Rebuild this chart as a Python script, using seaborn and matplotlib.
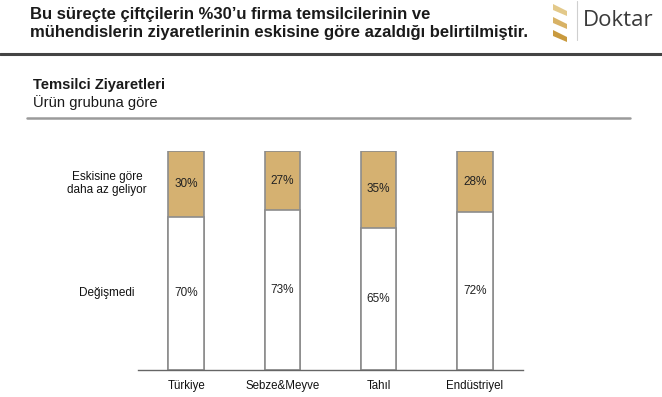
import numpy as np
import pandas as pd
import matplotlib.pyplot as plt
import seaborn as sns

# -----------------------------------
# Data
# -----------------------------------
categories = ["Türkiye", "Sebze&Meyve", "Tahıl", "Endüstriyel"]
unchanged = [70, 73, 65, 72]      # Değişmedi
less_often = [30, 27, 35, 28]     # Eskisine göre daha az geliyor
row_labels = ["Eskisine göre\ndaha az geliyor", "Değişmedi"]

df = pd.DataFrame({
    "Kategori": categories,
    "Degismedi": unchanged,
    "Azaldi": less_often,
})
df["Toplam"] = df["Degismedi"] + df["Azaldi"]

tan = "#d5b171"
edge = "#8c8c8c"

sns.set_style("white")
plt.rcParams["font.family"] = ["Liberation Sans", "DejaVu Sans"]

fig = plt.figure(figsize=(6.62, 3.97), dpi=100)
ax = fig.add_axes([138 / 662, 1 - 370 / 397, (523 - 138) / 662, (370 - 151) / 397])

# stacked bars: full height in tan, lower part in white
sns.barplot(data=df, x="Kategori", y="Toplam", color=tan, width=0.37,
            edgecolor=edge, linewidth=1.2, saturation=1, ax=ax)
sns.barplot(data=df, x="Kategori", y="Degismedi", color="white", width=0.37,
            edgecolor=edge, linewidth=1.2, saturation=1, ax=ax)

ax.set_xlim(-0.5, len(categories) - 0.5)
ax.set_ylim(0, 100)
ax.set_xlabel("")
ax.set_ylabel("")
ax.set_yticks([])
for s in ["top", "right", "left"]:
    ax.spines[s].set_visible(False)
ax.spines["bottom"].set_color("#666666")
ax.spines["bottom"].set_linewidth(1.0)

ax.set_xticks(range(len(categories)))
ax.set_xticklabels(categories, fontsize=8.3, color="#111111")
ax.tick_params(axis="x", which="major", length=0, pad=7)
ax.set_xticks(np.arange(-0.5, len(categories), 1.0), minor=True)
ax.tick_params(axis="x", which="minor", length=3, color="#666666", width=1, direction="out")

# value labels in the middle of each segment
for i in range(len(categories)):
    ax.text(i, unchanged[i] / 2, f"{unchanged[i]}%", ha="center", va="center",
            fontsize=8.5, color="#222222")
    ax.text(i, unchanged[i] + less_often[i] / 2, f"{less_often[i]}%", ha="center",
            va="center", fontsize=8.5, color="#222222")

# row labels on the left
ax.text(-0.82, unchanged[0] + less_often[0] / 2, row_labels[0], ha="center", va="center",
        fontsize=8.5, color="#111111", clip_on=False, linespacing=1.1)
ax.text(-0.82, unchanged[0] / 2, row_labels[1], ha="center", va="center",
        fontsize=8.5, color="#111111", clip_on=False)

# -----------------------------------
# Header
# -----------------------------------
fig.text(30 / 662, 1 - 15 / 397, "Bu süreçte çiftçilerin %30’u firma temsilcilerinin ve",
         fontsize=12, fontweight="bold", color="#1a1a1a", va="center")
fig.text(30 / 662, 1 - 33 / 397, "mühendislerin ziyaretlerinin eskisine göre azaldığı belirtilmiştir.",
         fontsize=12, fontweight="bold", color="#1a1a1a", va="center")
fig.add_artist(plt.Line2D([0, 1], [1 - 54 / 397, 1 - 54 / 397], color="#444444", linewidth=2.2))

# logo
fig.text(583 / 662, 1 - 21 / 397, "Doktar", fontsize=16, family="Open Sans",
         color="#3a3a3a", va="center")
fig.add_artist(plt.Line2D([577 / 662, 577 / 662], [1 - 1 / 397, 1 - 40 / 397],
                          color="#cfcfcf", linewidth=0.8))
for yy, col in [(4, "#e3c98a"), (17, "#d8b265"), (30, "#c99a3e")]:
    pts = [[553, yy], [567, yy + 7], [567, yy + 12], [553, yy + 6]]
    fig.add_artist(plt.Polygon([[x / 662, 1 - y / 397] for x, y in pts],
                               closed=True, color=col, lw=0))

# section title
fig.text(33 / 662, 1 - 85 / 397, "Temsilci Ziyaretleri", fontsize=10.6, fontweight="bold",
         color="#1a1a1a", va="center")
fig.text(33 / 662, 1 - 103 / 397, "Ürün grubuna göre", fontsize=10.6, color="#1a1a1a", va="center")
fig.add_artist(plt.Line2D([27 / 662, 630 / 662], [1 - 118 / 397, 1 - 118 / 397],
                          color="#9a9a9a", linewidth=1.8))

plt.savefig("out.png", dpi=100)
